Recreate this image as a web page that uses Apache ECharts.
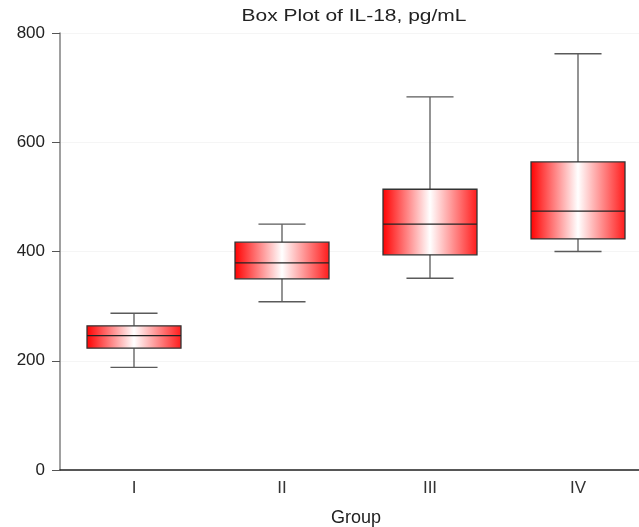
<!DOCTYPE html>
<html><head><meta charset="utf-8">
<script src="https://cdn.jsdelivr.net/npm/echarts@6/dist/echarts.min.js"></script>
<style>html,body{margin:0;padding:0;background:#fff}#c{width:639px;height:527px}</style>
</head><body><div id="c"></div>
<script>
const categories = ['I', 'II', 'III', 'IV'];
const whiskerLow = [188, 308, 351, 400];
const q1 = [223, 350, 394, 423];
const median = [246, 379, 450, 474];
const q3 = [264, 417, 514, 564];
const whiskerHigh = [287, 450, 683, 762];
const yTicks = [0, 200, 400, 600, 800];
const titleText = 'Box Plot of IL-18, pg/mL';

const data = categories.map((c, i) => [i, whiskerLow[i], q1[i], median[i], q3[i], whiskerHigh[i]]);
const chart = echarts.init(document.getElementById('c'));
const font = 'Liberation Sans, Arial, sans-serif';

function renderItem(params, api) {
  const i = api.value(0);
  const pLow = api.coord([i, api.value(1)]);
  const pQ1 = api.coord([i, api.value(2)]);
  const pMed = api.coord([i, api.value(3)]);
  const pQ3 = api.coord([i, api.value(4)]);
  const pHigh = api.coord([i, api.value(5)]);
  const band = api.size([1, 0])[0];
  const bw = band * 0.635, cw = band * 0.318;
  const x = pQ1[0];
  const ws = {stroke: '#5a5a5a', lineWidth: 1.3};
  return {
    type: 'group',
    children: [
      {type: 'line', shape: {x1: x, y1: pHigh[1], x2: x, y2: pQ3[1]}, style: ws},
      {type: 'line', shape: {x1: x - cw/2, y1: pHigh[1], x2: x + cw/2, y2: pHigh[1]}, style: ws},
      {type: 'line', shape: {x1: x, y1: pLow[1], x2: x, y2: pQ1[1]}, style: ws},
      {type: 'line', shape: {x1: x - cw/2, y1: pLow[1], x2: x + cw/2, y2: pLow[1]}, style: ws},
      {type: 'rect', shape: {x: x - bw/2, y: pQ3[1], width: bw, height: pQ1[1] - pQ3[1]},
        style: {fill: new echarts.graphic.LinearGradient(0, 0, 1, 0, [
          {offset: 0, color: '#ff0000'}, {offset: 0.5, color: '#ffffff'}, {offset: 1, color: '#ff1a1a'}]),
          stroke: '#333', lineWidth: 1.3}},
      {type: 'line', shape: {x1: x - bw/2, y1: pMed[1], x2: x + bw/2, y2: pMed[1]}, style: {stroke: '#222', lineWidth: 1.3}}
    ]
  };
}

chart.setOption({
  animation: false,
  backgroundColor: '#fff',
  graphic: [{type: 'text', x: 354, y: 17, scaleX: 1.31,
    style: {text: titleText, fontFamily: font, fontSize: 16, fill: '#222', align: 'center', verticalAlign: 'middle'}}],
  grid: {left: 60, width: 592, top: 33, height: 437, outerBoundsMode: 'none', containLabel: false},
  xAxis: {
    type: 'category', data: categories, boundaryGap: true,
    name: 'Group', nameLocation: 'middle', nameGap: 39,
    nameTextStyle: {fontFamily: font, fontSize: 18, color: '#222'},
    axisLine: {lineStyle: {color: '#222', width: 1.5}},
    axisTick: {alignWithLabel: true, length: 5, lineStyle: {color: '#555'}},
    axisLabel: {fontFamily: font, fontSize: 17, color: '#333', margin: 10},
    splitLine: {show: false}
  },
  yAxis: {
    type: 'value', min: 0, max: 800, interval: 200,
    axisLine: {show: true, lineStyle: {color: '#808080', width: 1.5}},
    axisTick: {show: true, length: 8, lineStyle: {color: '#555'}},
    axisLabel: {fontFamily: font, fontSize: 17, color: '#222', margin: 15,
      formatter: v => yTicks.includes(v) ? String(v) : ''},
    splitLine: {show: true, lineStyle: {color: '#f5f5f5'}}
  },
  series: [{type: 'custom', renderItem: renderItem, data: data, encode: {x: 0, y: [1, 2, 3, 4, 5]}}]
});
</script></body></html>
